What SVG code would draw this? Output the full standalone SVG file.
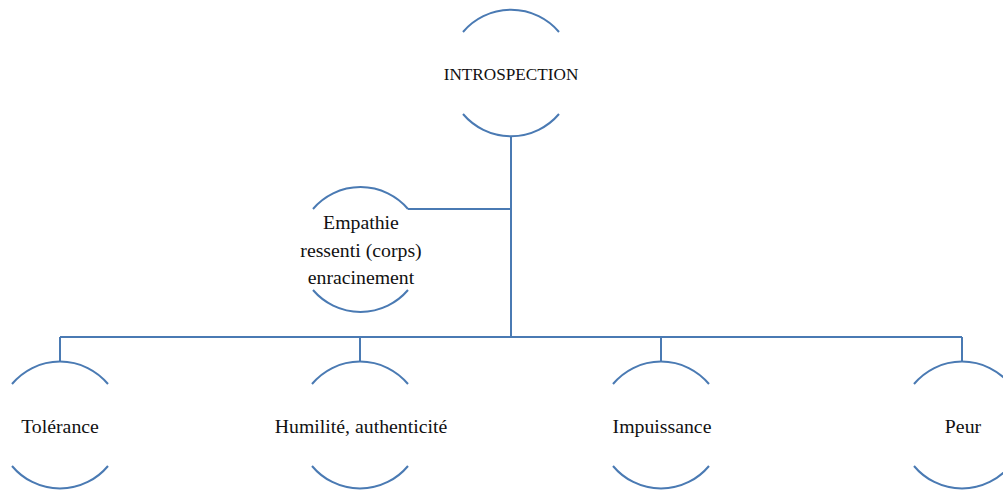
<svg xmlns="http://www.w3.org/2000/svg" width="1003" height="491" viewBox="0 0 1003 491">
<style>
.arc{fill:none;stroke:#4a7ab3;stroke-width:2}
.con{fill:none;stroke:#4a7ab3;stroke-width:2}
text{font-family:"Liberation Serif","DejaVu Serif",serif;font-size:19.8px;fill:#111;text-anchor:middle}
.caps{font-size:17.2px}
</style>
<rect width="1003" height="491" fill="#fff"/>
<g id="connectors">
<path class="con" d="M511 136 V337 M408 209 H511 M60 337 H962 M60 337 V362 M360 337 V362 M661 337 V362 M962 337 V362"/>
</g>
<g id="introspection">
<path class="arc" d="M463 32 A63 63 0 0 1 559 32 M463 114 A63 63 0 0 0 559 114"/>
<text class="caps" x="511" y="80">INTROSPECTION</text>
</g>
<g id="empathie">
<path class="arc" d="M313 209 A62.5 62.5 0 0 1 408 209 M313 290 A62.5 62.5 0 0 0 408 290"/>
<text x="361" y="229">Empathie</text>
<text x="361" y="257">ressenti (corps)</text>
<text x="361" y="284">enracinement</text>
</g>
<g id="tolerance">
<path class="arc" d="M12 384 A62.5 62.5 0 0 1 108 384 M12 466 A62.5 62.5 0 0 0 108 466"/>
<text x="60" y="433">Tolérance</text>
</g>
<g id="humilite">
<path class="arc" d="M312 384 A62.5 62.5 0 0 1 408 384 M312 466 A62.5 62.5 0 0 0 408 466"/>
<text x="361" y="433">Humilité, authenticité</text>
</g>
<g id="impuissance">
<path class="arc" d="M613 384 A62.5 62.5 0 0 1 709 384 M613 466 A62.5 62.5 0 0 0 709 466"/>
<text x="662" y="433">Impuissance</text>
</g>
<g id="peur">
<path class="arc" d="M914 384 A62.5 62.5 0 0 1 1010 384 M914 466 A62.5 62.5 0 0 0 1010 466"/>
<text x="963" y="433">Peur</text>
</g>
</svg>
